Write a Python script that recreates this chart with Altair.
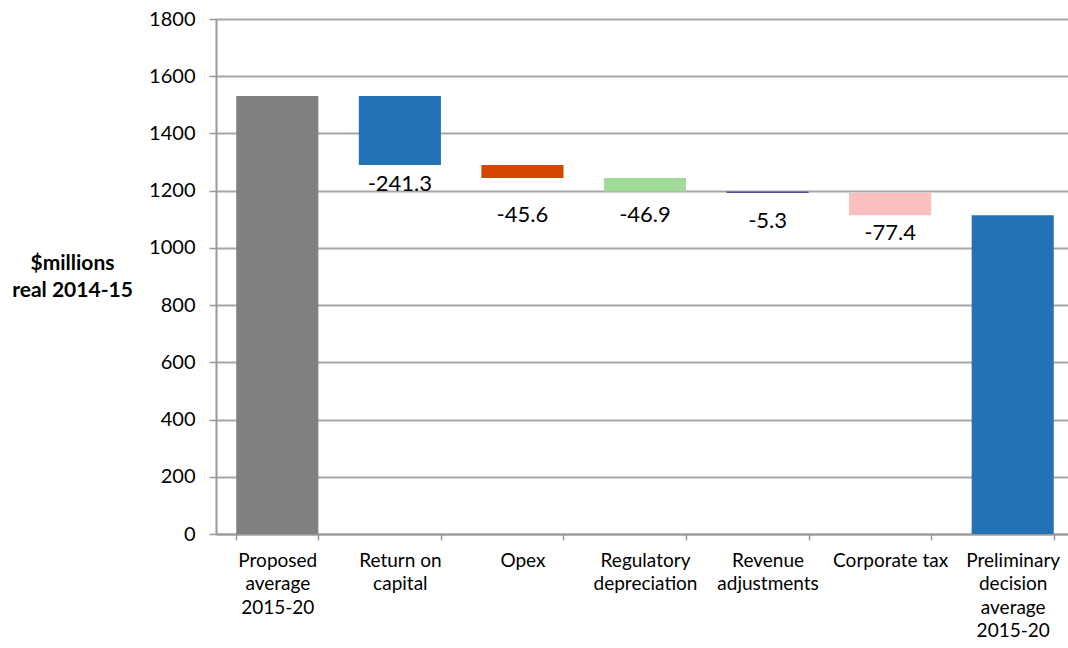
import altair as alt
import pandas as pd

categories = [
    "Proposed|average|2015-20",
    "Return on|capital",
    "Opex",
    "Regulatory|depreciation",
    "Revenue|adjustments",
    "Corporate tax",
    "Preliminary|decision|average|2015-20",
]
proposed_total = 1531.0
changes = [-241.3, -45.6, -46.9, -5.3, -77.4]
change_labels = ["-241.3", "-45.6", "-46.9", "-5.3", "-77.4"]

bar_colors = ["#808080", "#2372B5", "#D34600", "#A2DA9A", "#5E4B8B", "#FBBFBF", "#2372B5"]
label_offsets_px = [19, 37, 24, 28, 18]

PLOT_H = 515
Y_MAX = 1800

rows = []
level = proposed_total
rows.append({"cat": categories[0], "start": 0.0, "end": level, "label": "", "off": 0})
for i, ch in enumerate(changes):
    new_level = level + ch
    rows.append({"cat": categories[i + 1], "start": level, "end": new_level,
                 "label": change_labels[i], "off": label_offsets_px[i]})
    level = new_level
rows.append({"cat": categories[-1], "start": 0.0, "end": level, "label": "", "off": 0})
df = pd.DataFrame(rows)

FONT = "Lato"

x_enc = alt.X(
    "cat:N", sort=categories, title=None,
    scale=alt.Scale(paddingInner=0.33, paddingOuter=0.165, range=[0, 858]),
    axis=alt.Axis(
        labelExpr="split(datum.label, '|')", labelAngle=0, labelFont=FONT,
        labelFontSize=19, labelColor="#000000", labelLineHeight=23.5,
        labelBaseline="top", labelPadding=11, tickBand="extent", tickSize=6,
        tickColor="#999999", tickWidth=1.5, domainColor="#999999", domainWidth=2,
        grid=False, labelLimit=200,
    ),
)

bars = alt.Chart(df).mark_bar().encode(
    x=x_enc,
    y=alt.Y(
        "start:Q", title=["$millions", "real 2014-15"],
        scale=alt.Scale(domain=[0, Y_MAX], nice=False),
        axis=alt.Axis(
            values=list(range(0, 1801, 200)), format="d", labelFont=FONT, labelFontSize=20,
            labelColor="#000000", labelPadding=14, tickSize=7, tickColor="#999999",
            tickWidth=1.5, domainColor="#999999", domainWidth=2,
            gridColor="#A6A6A6", gridWidth=2,
            titleAngle=0, titleFont=FONT, titleFontSize=21, titleFontWeight="bold",
            titleColor="#000000", titleAlign="center", titleBaseline="middle",
            titleX=-144, titleY=244, titleLineHeight=27,
        ),
    ),
    y2="end:Q",
    color=alt.Color("cat:N", scale=alt.Scale(domain=categories, range=bar_colors), legend=None),
)

labels = alt.Chart(df).transform_filter(
    alt.datum.label != ""
).transform_calculate(
    label_y=f"datum.end - datum.off * {Y_MAX} / {PLOT_H}"
).mark_text(font=FONT, fontSize=22, color="#000000", baseline="middle").encode(
    x=alt.X("cat:N", sort=categories),
    y=alt.Y("label_y:Q"),
    text="label:N",
)

chart = alt.layer(bars, labels).properties(
    width=852, height=PLOT_H,
    autosize=alt.AutoSizeParams(type="none"),
    padding={"left": 216, "top": 19, "right": 0, "bottom": 114},
).configure_view(stroke=None).configure(background="#ffffff")

chart.save("out.html", embed_options={"renderer": "svg", "actions": False})
